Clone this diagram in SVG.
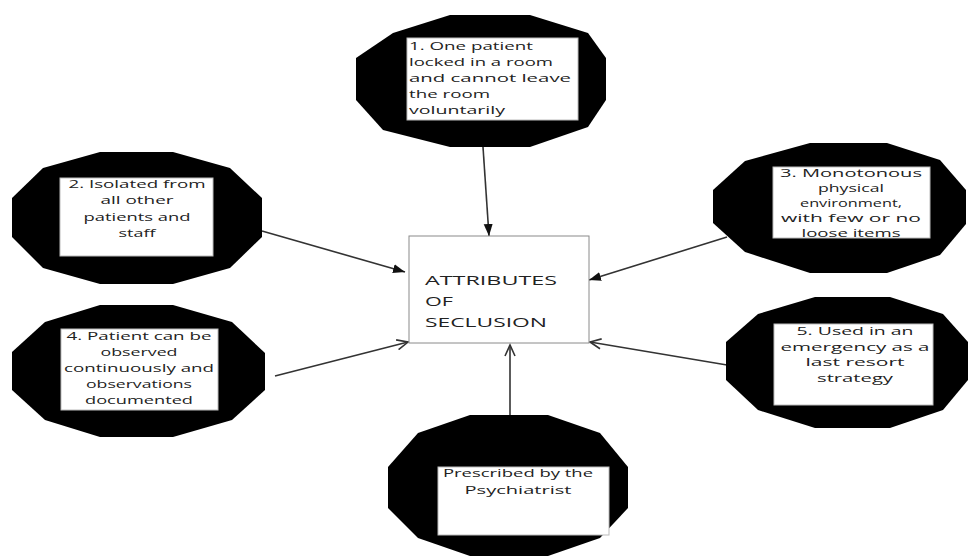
<svg xmlns="http://www.w3.org/2000/svg" width="971" height="557" viewBox="0 0 971 557">
<style>
.blob{fill:#000;stroke:none}
.inner{fill:#fff;stroke:#bbb;stroke-width:1}
.center{fill:#fff;stroke:#8a8a8a;stroke-width:1}
.t{font-family:"Open Sans","Liberation Sans",sans-serif;font-size:11px;fill:#222}
.m{text-anchor:middle}
.ct{font-family:"Open Sans","Liberation Sans",sans-serif;font-size:13px;fill:#222}
.c{stroke:#333;stroke-width:1.6;fill:none}
</style>
<defs>
<marker id="fill" markerUnits="userSpaceOnUse" markerWidth="14" markerHeight="10" refX="12" refY="5" orient="auto">
<path d="M0,0.5 L12,5 L0,9.5 Z" fill="#111"/>
</marker>
<marker id="open" markerUnits="userSpaceOnUse" markerWidth="14" markerHeight="12" refX="12" refY="6" orient="auto">
<path d="M1,1 L12,6 L1,11" fill="none" stroke="#333" stroke-width="1.6"/>
</marker>
</defs>
<rect width="971" height="557" fill="#fff"/>
<g id="connectors">
<line class="c" x1="483" y1="147" x2="489" y2="236" marker-end="url(#fill)"/>
<line class="c" x1="262" y1="231" x2="405" y2="272" marker-end="url(#fill)"/>
<line class="c" x1="727" y1="237" x2="589" y2="280" marker-end="url(#fill)"/>
<line class="c" x1="275" y1="376" x2="408" y2="342" marker-end="url(#open)"/>
<line class="c" x1="727" y1="365" x2="590" y2="342" marker-end="url(#open)"/>
<line class="c" x1="510" y1="415" x2="510" y2="345" marker-end="url(#open)"/>
</g>
<g id="center">
<rect class="center" x="409" y="236" width="180" height="107"/>
<text class="ct" x="425" y="285" textLength="132" lengthAdjust="spacingAndGlyphs">ATTRIBUTES</text>
<text class="ct" x="425" y="306" textLength="28" lengthAdjust="spacingAndGlyphs">OF</text>
<text class="ct" x="425" y="327" textLength="122" lengthAdjust="spacingAndGlyphs">SECLUSION</text>
</g>
<g id="node1">
<polygon class="blob" points="450,15 530,15 588,33 606,58 606,100 588,127 530,147 450,147 383,130 356,100 356,58 393,33"/>
<rect class="inner" x="407" y="38" width="171" height="82"/>
<text class="t" x="409" y="50" textLength="124" lengthAdjust="spacingAndGlyphs">1. One patient</text>
<text class="t" x="409" y="66" textLength="144" lengthAdjust="spacingAndGlyphs">locked in a room</text>
<text class="t" x="409" y="82" textLength="162" lengthAdjust="spacingAndGlyphs">and cannot leave</text>
<text class="t" x="409" y="98" textLength="81" lengthAdjust="spacingAndGlyphs">the room</text>
<text class="t" x="409" y="114" textLength="96" lengthAdjust="spacingAndGlyphs">voluntarily</text>
</g>
<g id="node2">
<polygon class="blob" points="100,152 173,152 230,168 262,198 262,237 230,268 173,284 100,284 43,268 12,237 12,198 43,168"/>
<rect class="inner" x="60" y="178" width="153" height="78"/>
<text class="t m" x="137" y="188" textLength="137" lengthAdjust="spacingAndGlyphs">2. Isolated from</text>
<text class="t m" x="137" y="204" textLength="73" lengthAdjust="spacingAndGlyphs">all other</text>
<text class="t m" x="137" y="221" textLength="107" lengthAdjust="spacingAndGlyphs">patients and</text>
<text class="t m" x="137" y="237" textLength="37" lengthAdjust="spacingAndGlyphs">staff</text>
</g>
<g id="node3">
<polygon class="blob" points="810,143 887,143 940,160 966,190 966,224 940,255 887,273 810,273 745,252 713,223 713,190 745,161"/>
<rect class="inner" x="773" y="167" width="157" height="71"/>
<text class="t m" x="851" y="177" textLength="142" lengthAdjust="spacingAndGlyphs">3. Monotonous</text>
<text class="t m" x="851" y="192" textLength="66" lengthAdjust="spacingAndGlyphs">physical</text>
<text class="t m" x="851" y="207" textLength="102" lengthAdjust="spacingAndGlyphs">environment,</text>
<text class="t m" x="851" y="222" textLength="140" lengthAdjust="spacingAndGlyphs">with few or no</text>
<text class="t m" x="851" y="237" textLength="99" lengthAdjust="spacingAndGlyphs">loose items</text>
</g>
<g id="node4">
<polygon class="blob" points="100,305 173,305 232,322 265,353 265,390 232,420 173,437 100,437 45,420 12,390 12,352 45,322"/>
<rect class="inner" x="61" y="329" width="157" height="81"/>
<text class="t m" x="139" y="340" textLength="145" lengthAdjust="spacingAndGlyphs">4. Patient can be</text>
<text class="t m" x="139" y="356" textLength="77" lengthAdjust="spacingAndGlyphs">observed</text>
<text class="t m" x="139" y="372" textLength="150" lengthAdjust="spacingAndGlyphs">continuously and</text>
<text class="t m" x="139" y="388" textLength="106" lengthAdjust="spacingAndGlyphs">observations</text>
<text class="t m" x="139" y="404" textLength="108" lengthAdjust="spacingAndGlyphs">documented</text>
</g>
<g id="node5">
<polygon class="blob" points="815,297 890,297 943,314 968,342 968,380 943,410 890,428 815,428 758,410 726,380 726,342 758,314"/>
<rect class="inner" x="774" y="324" width="159" height="81"/>
<text class="t m" x="855" y="335" textLength="117" lengthAdjust="spacingAndGlyphs">5. Used in an</text>
<text class="t m" x="855" y="351" textLength="149" lengthAdjust="spacingAndGlyphs">emergency as a</text>
<text class="t m" x="855" y="366" textLength="99" lengthAdjust="spacingAndGlyphs">last resort</text>
<text class="t m" x="855" y="382" textLength="76" lengthAdjust="spacingAndGlyphs">strategy</text>
</g>
<g id="node6">
<polygon class="blob" points="470,415 548,415 600,433 628,467 628,508 600,538 548,556 470,556 418,538 388,508 388,467 418,433"/>
<rect class="inner" x="438" y="467" width="171" height="68"/>
<text class="t m" x="518" y="477" textLength="150" lengthAdjust="spacingAndGlyphs">Prescribed by the</text>
<text class="t m" x="518" y="494" textLength="107" lengthAdjust="spacingAndGlyphs">Psychiatrist</text>
</g>
</svg>
